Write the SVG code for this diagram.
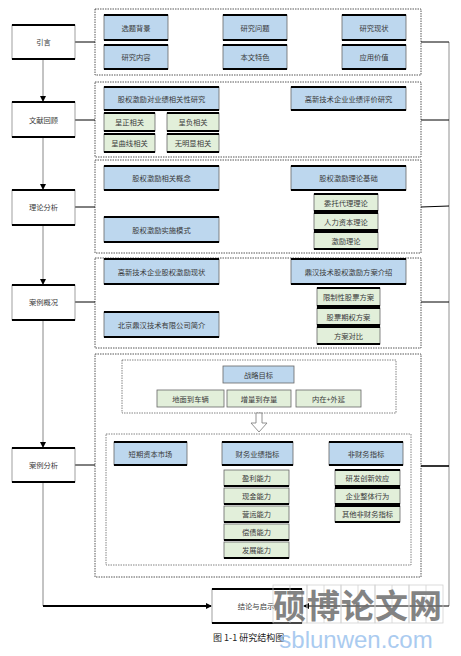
<svg xmlns="http://www.w3.org/2000/svg" width="461" height="656" viewBox="0 0 461 656">
<defs>
<style>
.blue{fill:#bdd7ee;stroke:#666;stroke-width:0.8}
.green{fill:#e2efda;stroke:#666;stroke-width:0.8}
.white{fill:#fff;stroke:#888;stroke-width:0.8}
.tb{stroke:#000;stroke-width:1.8}
.lbl{font-family:"Noto Sans CJK SC",sans-serif;font-size:7.3px;fill:#3a3a3a;text-anchor:middle;dominant-baseline:central}
.cont{fill:none;stroke:#444;stroke-width:0.9;stroke-dasharray:1.5 1}
.inner{fill:none;stroke:#666;stroke-width:0.8;stroke-dasharray:1.5 1}
.ln{stroke:#000;stroke-width:1;fill:none}
.gl{stroke:#888;stroke-width:1;fill:none}
</style>
<marker id="arr" markerWidth="6" markerHeight="6" refX="5" refY="3" orient="auto" markerUnits="userSpaceOnUse">
<path d="M0,0 L6,3 L0,6 Z" fill="#000"/>
</marker>
</defs>
<rect width="461" height="656" fill="#fff"/>

<!-- containers -->
<g id="containers">
<rect class="cont" x="95" y="9" width="326" height="66"/>
<rect class="cont" x="95" y="82" width="326" height="75"/>
<rect class="cont" x="95" y="160" width="326" height="93"/>
<rect class="cont" x="95" y="258" width="326" height="90"/>
<rect class="cont" x="95" y="354" width="326" height="223"/>
<rect class="inner" x="122" y="360" width="274" height="53"/>
<rect class="inner" x="106" y="434" width="305" height="131"/>
</g>

<!-- connectors -->
<g id="connectors">
<line class="gl" x1="43" y1="59" x2="43" y2="101" marker-end="url(#arr)"/>
<line class="gl" x1="43" y1="137" x2="43" y2="189" marker-end="url(#arr)"/>
<line class="gl" x1="43" y1="225" x2="43" y2="284" marker-end="url(#arr)"/>
<line class="gl" x1="43" y1="320" x2="43" y2="447" marker-end="url(#arr)"/>
<polyline class="gl" points="43,482 43,606"/>
<line x1="43" y1="606" x2="211" y2="606" stroke="#000" stroke-width="1.8" marker-end="url(#arr)"/>
<line class="ln" x1="75" y1="42" x2="95" y2="42"/>
<line class="ln" x1="75" y1="120" x2="95" y2="120"/>
<line class="ln" x1="75" y1="207" x2="95" y2="207"/>
<line class="ln" x1="75" y1="302" x2="95" y2="302"/>
<line class="ln" x1="75" y1="465" x2="95" y2="465"/>
<line x1="449" y1="42" x2="449" y2="606" stroke="#c8c8c8" stroke-width="2"/>
<line class="ln" x1="421" y1="42" x2="449" y2="42"/>
<line class="ln" x1="421" y1="120" x2="449" y2="120"/>
<line class="ln" x1="421" y1="207" x2="449" y2="206"/>
<line class="ln" x1="421" y1="302" x2="449" y2="302"/>
<line x1="421" y1="466" x2="449" y2="466" stroke="#000" stroke-width="1.6"/>
<line class="ln" x1="449" y1="606" x2="304" y2="606" marker-end="url(#arr)"/>
<path d="M256,413 L262,413 L262,423 L267,423 L259,432 L251,423 L256,423 Z" fill="#fff" stroke="#777" stroke-width="0.8"/>
</g>

<!-- left column nodes -->
<g id="n-yinyan"><rect class="white" x="12" y="25" width="63" height="34"/><line class="tb" x1="12" y1="25" x2="75" y2="25"/><line class="tb" x1="12" y1="59" x2="75" y2="59"/><text class="lbl" x="43.5" y="42">引言</text></g>
<g id="n-wenxian"><rect class="white" x="12" y="102" width="63" height="35"/><line class="tb" x1="12" y1="102" x2="75" y2="102"/><line class="tb" x1="12" y1="137" x2="75" y2="137"/><text class="lbl" x="43.5" y="120">文献回顾</text></g>
<g id="n-lilun"><rect class="white" x="12" y="190" width="63" height="35"/><line class="tb" x1="12" y1="190" x2="75" y2="190"/><line class="tb" x1="12" y1="225" x2="75" y2="225"/><text class="lbl" x="43.5" y="207">理论分析</text></g>
<g id="n-gaikuang"><rect class="white" x="12" y="285" width="63" height="35"/><line class="tb" x1="12" y1="285" x2="75" y2="285"/><line class="tb" x1="12" y1="320" x2="75" y2="320"/><text class="lbl" x="43.5" y="302">案例概况</text></g>
<g id="n-fenxi"><rect class="white" x="12" y="448" width="63" height="34"/><line class="tb" x1="12" y1="448" x2="75" y2="448"/><line class="tb" x1="12" y1="482" x2="75" y2="482"/><text class="lbl" x="43.5" y="465">案例分析</text></g>
<g id="n-jielun"><rect class="white" x="212" y="589" width="90" height="34"/><line class="tb" x1="212" y1="589" x2="302" y2="589"/><line class="tb" x1="212" y1="623" x2="302" y2="623"/><text class="lbl" x="256" y="606">结论与启示</text></g>

<!-- section 1 -->
<g id="n-xuanti"><rect class="blue" x="104" y="15" width="64" height="25"/><line class="tb" x1="104" y1="15" x2="168" y2="15"/><line class="tb" x1="104" y1="40" x2="168" y2="40"/><text class="lbl" x="136" y="27.5">选题背景</text></g>
<g id="n-wenti"><rect class="blue" x="223" y="15" width="64" height="25"/><line class="tb" x1="223" y1="15" x2="287" y2="15"/><line class="tb" x1="223" y1="40" x2="287" y2="40"/><text class="lbl" x="255" y="27.5">研究问题</text></g>
<g id="n-xianzhuang"><rect class="blue" x="342" y="15" width="64" height="25"/><line class="tb" x1="342" y1="15" x2="406" y2="15"/><line class="tb" x1="342" y1="40" x2="406" y2="40"/><text class="lbl" x="374" y="27.5">研究现状</text></g>
<g id="n-neirong"><rect class="blue" x="104" y="45" width="64" height="24"/><line class="tb" x1="104" y1="45" x2="168" y2="45"/><line class="tb" x1="104" y1="69" x2="168" y2="69"/><text class="lbl" x="136" y="57">研究内容</text></g>
<g id="n-tese"><rect class="blue" x="223" y="45" width="64" height="24"/><line class="tb" x1="223" y1="45" x2="287" y2="45"/><line class="tb" x1="223" y1="69" x2="287" y2="69"/><text class="lbl" x="255" y="57">本文特色</text></g>
<g id="n-jiazhi"><rect class="blue" x="342" y="45" width="64" height="24"/><line class="tb" x1="342" y1="45" x2="406" y2="45"/><line class="tb" x1="342" y1="69" x2="406" y2="69"/><text class="lbl" x="374" y="57">应用价值</text></g>

<!-- section 2 -->
<g id="n-xiangguan"><rect class="blue" x="104" y="87" width="115" height="23"/><line class="tb" x1="104" y1="87" x2="219" y2="87"/><line class="tb" x1="104" y1="110" x2="219" y2="110"/><text class="lbl" x="161.5" y="98.5">股权激励对业绩相关性研究</text></g>
<g id="n-pingjia"><rect class="blue" x="291" y="87" width="115" height="23"/><line class="tb" x1="291" y1="87" x2="406" y2="87"/><line class="tb" x1="291" y1="110" x2="406" y2="110"/><text class="lbl" x="348.5" y="98.5">高新技术企业业绩评价研究</text></g>
<g id="n-zheng"><rect class="green" x="104" y="113" width="51" height="18"/><line class="tb" x1="104" y1="113" x2="155" y2="113"/><line class="tb" x1="104" y1="131" x2="155" y2="131"/><text class="lbl" x="129.5" y="122">呈正相关</text></g>
<g id="n-fu"><rect class="green" x="167" y="113" width="52" height="18"/><line class="tb" x1="167" y1="113" x2="219" y2="113"/><line class="tb" x1="167" y1="131" x2="219" y2="131"/><text class="lbl" x="193" y="122">呈负相关</text></g>
<g id="n-quxian"><rect class="green" x="104" y="134" width="51" height="18"/><line class="tb" x1="104" y1="134" x2="155" y2="134"/><line class="tb" x1="104" y1="152" x2="155" y2="152"/><text class="lbl" x="129.5" y="143">呈曲线相关</text></g>
<g id="n-wu"><rect class="green" x="167" y="134" width="52" height="18"/><line class="tb" x1="167" y1="134" x2="219" y2="134"/><line class="tb" x1="167" y1="152" x2="219" y2="152"/><text class="lbl" x="193" y="143">无明显相关</text></g>

<!-- section 3 -->
<g id="n-gainian"><rect class="blue" x="104" y="166" width="115" height="24"/><line class="tb" x1="104" y1="166" x2="219" y2="166"/><line class="tb" x1="104" y1="190" x2="219" y2="190"/><text class="lbl" x="161.5" y="178">股权激励相关概念</text></g>
<g id="n-moshi"><rect class="blue" x="104" y="217" width="115" height="25"/><line class="tb" x1="104" y1="217" x2="219" y2="217" stroke-width="0.8"/><line class="tb" x1="104" y1="242" x2="219" y2="242"/><text class="lbl" x="161.5" y="229.5">股权激励实施模式</text></g>
<g id="n-jichu"><rect class="blue" x="291" y="166" width="115" height="24"/><line class="tb" x1="291" y1="166" x2="406" y2="166"/><line class="tb" x1="291" y1="190" x2="406" y2="190"/><text class="lbl" x="348.5" y="178">股权激励理论基础</text></g>
<g id="n-weituo"><rect class="green" x="314" y="194" width="64" height="17"/><line class="tb" x1="314" y1="194" x2="378" y2="194"/><line class="tb" x1="314" y1="211" x2="378" y2="211"/><text class="lbl" x="346" y="202.5">委托代理理论</text></g>
<g id="n-renli"><rect class="green" x="314" y="213" width="64" height="17"/><line class="tb" x1="314" y1="213" x2="378" y2="213"/><line class="tb" x1="314" y1="230" x2="378" y2="230"/><text class="lbl" x="346" y="221.5">人力资本理论</text></g>
<g id="n-jili"><rect class="green" x="314" y="232" width="64" height="17"/><line class="tb" x1="314" y1="232" x2="378" y2="232"/><line class="tb" x1="314" y1="249" x2="378" y2="249"/><text class="lbl" x="346" y="240.5">激励理论</text></g>

<!-- section 4 -->
<g id="n-xianzhuang2"><rect class="blue" x="104" y="259" width="115" height="25"/><line class="tb" x1="104" y1="259" x2="219" y2="259"/><line class="tb" x1="104" y1="284" x2="219" y2="284"/><text class="lbl" x="161.5" y="271.5">高新技术企业股权激励现状</text></g>
<g id="n-jianjie"><rect class="blue" x="104" y="312" width="115" height="25"/><line class="tb" x1="104" y1="312" x2="219" y2="312" stroke-width="0.8"/><line class="tb" x1="104" y1="337" x2="219" y2="337"/><text class="lbl" x="161.5" y="324.5">北京鼎汉技术有限公司简介</text></g>
<g id="n-fangan"><rect class="blue" x="291" y="259" width="115" height="25"/><line class="tb" x1="291" y1="259" x2="406" y2="259"/><line class="tb" x1="291" y1="284" x2="406" y2="284"/><text class="lbl" x="348.5" y="271.5">鼎汉技术股权激励方案介绍</text></g>
<g id="n-xianzhi"><rect class="green" x="317" y="288" width="63" height="18"/><line class="tb" x1="317" y1="288" x2="380" y2="288"/><line class="tb" x1="317" y1="306" x2="380" y2="306"/><text class="lbl" x="348.5" y="297">限制性股票方案</text></g>
<g id="n-qiquan"><rect class="green" x="317" y="308" width="63" height="17"/><line class="tb" x1="317" y1="308" x2="380" y2="308"/><line class="tb" x1="317" y1="325" x2="380" y2="325"/><text class="lbl" x="348.5" y="316.5">股票期权方案</text></g>
<g id="n-duibi"><rect class="green" x="317" y="327" width="63" height="17"/><line class="tb" x1="317" y1="327" x2="380" y2="327"/><line class="tb" x1="317" y1="344" x2="380" y2="344"/><text class="lbl" x="348.5" y="335.5">方案对比</text></g>

<!-- section 5 -->
<g id="n-zhanlue"><rect class="blue" x="223" y="366" width="71" height="17"/><text class="lbl" x="258.5" y="374.5">战略目标</text></g>
<g id="n-dimian"><rect class="green" x="157" y="390" width="67" height="17"/><text class="lbl" x="190.5" y="398.5">地面到车辆</text></g>
<g id="n-zengliang"><rect class="green" x="227" y="390" width="64" height="17"/><text class="lbl" x="259" y="398.5">增量到存量</text></g>
<g id="n-neizai"><rect class="green" x="296" y="390" width="65" height="17"/><text class="lbl" x="328.5" y="398.5">内在+外延</text></g>

<g id="n-duanqi"><rect class="blue" x="114" y="442" width="73" height="23"/><line class="tb" x1="114" y1="442" x2="187" y2="442"/><line class="tb" x1="114" y1="465" x2="187" y2="465"/><text class="lbl" x="150.5" y="453.5">短期资本市场</text></g>
<g id="n-caiwu"><rect class="blue" x="222" y="442" width="71" height="23"/><line class="tb" x1="222" y1="442" x2="293" y2="442"/><line class="tb" x1="222" y1="465" x2="293" y2="465"/><text class="lbl" x="257.5" y="453.5">财务业绩指标</text></g>
<g id="n-feicaiwu"><rect class="blue" x="329" y="442" width="74" height="23"/><line class="tb" x1="329" y1="442" x2="403" y2="442"/><line class="tb" x1="329" y1="465" x2="403" y2="465"/><text class="lbl" x="366" y="453.5">非财务指标</text></g>

<g id="n-yingli"><rect class="green" x="224" y="470" width="65" height="16"/><line class="tb" x1="224" y1="486" x2="289" y2="486"/><text class="lbl" x="256.5" y="478">盈利能力</text></g>
<g id="n-xianjin"><rect class="green" x="224" y="488" width="65" height="16"/><line class="tb" x1="224" y1="504" x2="289" y2="504"/><text class="lbl" x="256.5" y="496">现金能力</text></g>
<g id="n-yingyun"><rect class="green" x="224" y="506" width="65" height="16"/><line class="tb" x1="224" y1="522" x2="289" y2="522"/><text class="lbl" x="256.5" y="514">营运能力</text></g>
<g id="n-changzhai"><rect class="green" x="224" y="524" width="65" height="16"/><line class="tb" x1="224" y1="540" x2="289" y2="540"/><text class="lbl" x="256.5" y="532">偿债能力</text></g>
<g id="n-fazhan"><rect class="green" x="224" y="542" width="65" height="16"/><line class="tb" x1="224" y1="558" x2="289" y2="558"/><text class="lbl" x="256.5" y="550">发展能力</text></g>

<g id="n-yanfa"><rect class="green" x="335" y="470" width="65" height="16"/><line class="tb" x1="335" y1="470" x2="400" y2="470"/><line class="tb" x1="335" y1="486" x2="400" y2="486"/><text class="lbl" x="367.5" y="478">研发创新效应</text></g>
<g id="n-zhengti"><rect class="green" x="335" y="488" width="65" height="16"/><line class="tb" x1="335" y1="488" x2="400" y2="488"/><line class="tb" x1="335" y1="504" x2="400" y2="504"/><text class="lbl" x="367.5" y="496">企业整体行为</text></g>
<g id="n-qita"><rect class="green" x="335" y="506" width="65" height="16"/><line class="tb" x1="335" y1="506" x2="400" y2="506"/><line class="tb" x1="335" y1="522" x2="400" y2="522"/><text class="lbl" x="367.5" y="514">其他非财务指标</text></g>

<!-- caption -->
<text x="213" y="641" font-family="'Noto Sans CJK SC',sans-serif" font-size="9" fill="#222">图 1-1 研究结构图</text>

<!-- watermark -->
<g id="watermark" opacity="0.85">
<g fill="none" stroke="#ccc" stroke-width="0.8">
<rect x="273" y="585" width="34" height="38"/><rect x="307" y="585" width="34" height="38"/><rect x="341" y="585" width="34" height="38"/><rect x="375" y="585" width="34" height="38"/><rect x="409" y="585" width="34" height="38"/>
<line x1="290" y1="585" x2="290" y2="623"/><line x1="324" y1="585" x2="324" y2="623"/><line x1="358" y1="585" x2="358" y2="623"/><line x1="392" y1="585" x2="392" y2="623"/><line x1="426" y1="585" x2="426" y2="623"/>
</g>
<text x="358" y="604" font-family="'Noto Sans CJK SC',sans-serif" font-size="33" font-weight="bold" fill="#6e6e6e" text-anchor="middle" dominant-baseline="central" letter-spacing="1">硕博论文网</text>
<text x="356" y="648" font-family="'Liberation Sans',sans-serif" font-size="24" fill="#9cc3ee" text-anchor="middle">sblunwen.com</text>
</g>
</svg>
